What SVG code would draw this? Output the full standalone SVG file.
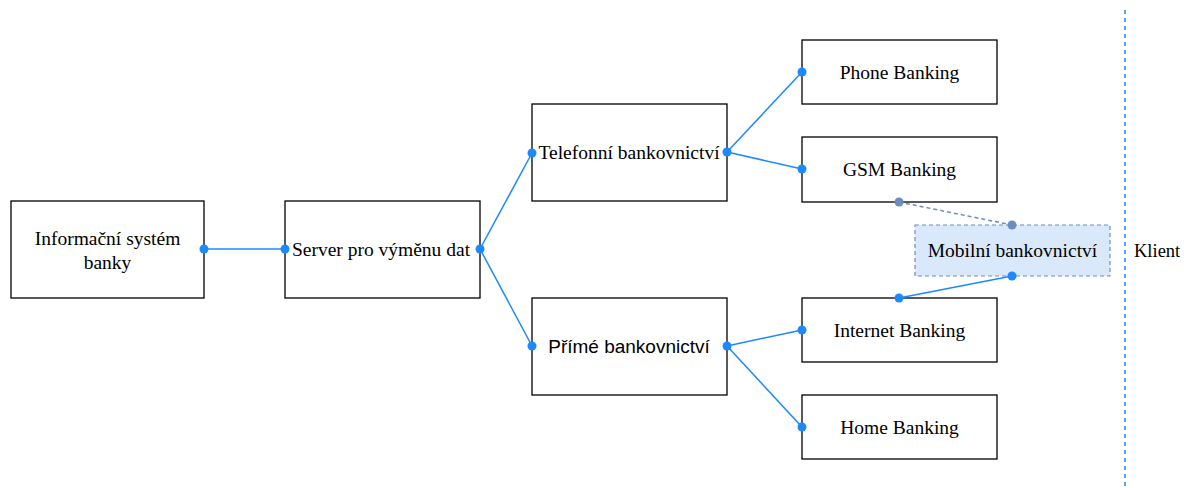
<svg xmlns="http://www.w3.org/2000/svg" width="1184" height="488" viewBox="0 0 1184 488">
<style>
.box{fill:#fff;stroke:#000;stroke-width:1.3}
.t{font-family:"Liberation Serif",serif;font-size:19.5px;fill:#000;text-anchor:middle}
.ts{font-family:"Liberation Sans",sans-serif;font-size:19px;fill:#000;text-anchor:middle}
.c{stroke:#1E88FF;stroke-width:1.5;fill:none}
.d{fill:#1E88FF}
.cg{stroke:#6C8EBF;stroke-width:1.5;fill:none;stroke-dasharray:4 3}
.dg{fill:#6C8EBF}
</style>
<rect width="1184" height="488" fill="#fff"/>
<g id="n-is"><rect class="box" x="11" y="201" width="193" height="97"/><text class="t" x="107.5" y="245">Informační systém</text><text class="t" x="107.5" y="269">banky</text></g>
<g id="n-server"><rect class="box" x="285" y="201" width="195" height="97"/><text class="t" x="381" y="256">Server pro výměnu dat</text></g>
<g id="n-tel"><rect class="box" x="532" y="104" width="195" height="97"/><text class="t" x="629" y="159">Telefonní bankovnictví</text></g>
<g id="n-prime"><rect class="box" x="532" y="298" width="195" height="97"/><text class="ts" x="629" y="353">Přímé bankovnictví</text></g>
<g id="n-phone"><rect class="box" x="802" y="40" width="195" height="64"/><text class="t" x="899.5" y="79">Phone Banking</text></g>
<g id="n-gsm"><rect class="box" x="802" y="137" width="195" height="65"/><text class="t" x="899.5" y="176">GSM Banking</text></g>
<g id="n-internet"><rect class="box" x="802" y="298" width="195" height="64"/><text class="t" x="899.5" y="337">Internet Banking</text></g>
<g id="n-home"><rect class="box" x="802" y="395" width="195" height="64"/><text class="t" x="899.5" y="434">Home Banking</text></g>
<g id="n-mobil"><rect x="915" y="225" width="195" height="51" fill="#dae8fc" stroke="#6C8EBF" stroke-width="1.2" stroke-dasharray="4 3"/><text class="t" x="1012.5" y="257">Mobilní bankovnictví</text></g>
<g id="klient"><path d="M1125 10V488" stroke="#1E88FF" stroke-width="1.5" stroke-dasharray="4 4"/><text x="1134" y="257" font-family="Liberation Serif,serif" font-size="18.5">Klient</text></g>
<g id="connectors">
<path class="c" d="M204 249H285"/>
<path class="c" d="M480 249L532 153"/>
<path class="c" d="M480 249L532 346"/>
<path class="c" d="M727 152L802 72"/>
<path class="c" d="M727 152L802 169"/>
<path class="c" d="M727 346L802 330"/>
<path class="c" d="M727 346L802 427"/>
<path class="c" d="M1012 276L899 298"/>
<path class="cg" d="M899 202L1012 225"/>
<g class="d">
<circle cx="204" cy="249" r="4.5"/><circle cx="285" cy="249" r="4.5"/>
<circle cx="480" cy="249" r="4.5"/><circle cx="532" cy="153" r="4.5"/>
<circle cx="532" cy="346" r="4.5"/><circle cx="727" cy="152" r="4.5"/>
<circle cx="802" cy="72" r="4.5"/><circle cx="802" cy="169" r="4.5"/>
<circle cx="727" cy="346" r="4.5"/><circle cx="802" cy="330" r="4.5"/>
<circle cx="802" cy="427" r="4.5"/><circle cx="1012" cy="276" r="4.5"/>
<circle cx="899" cy="298" r="4.5"/>
</g>
<g class="dg"><circle cx="899" cy="202" r="4.5"/><circle cx="1012" cy="225" r="4.5"/></g>
</g>
</svg>
